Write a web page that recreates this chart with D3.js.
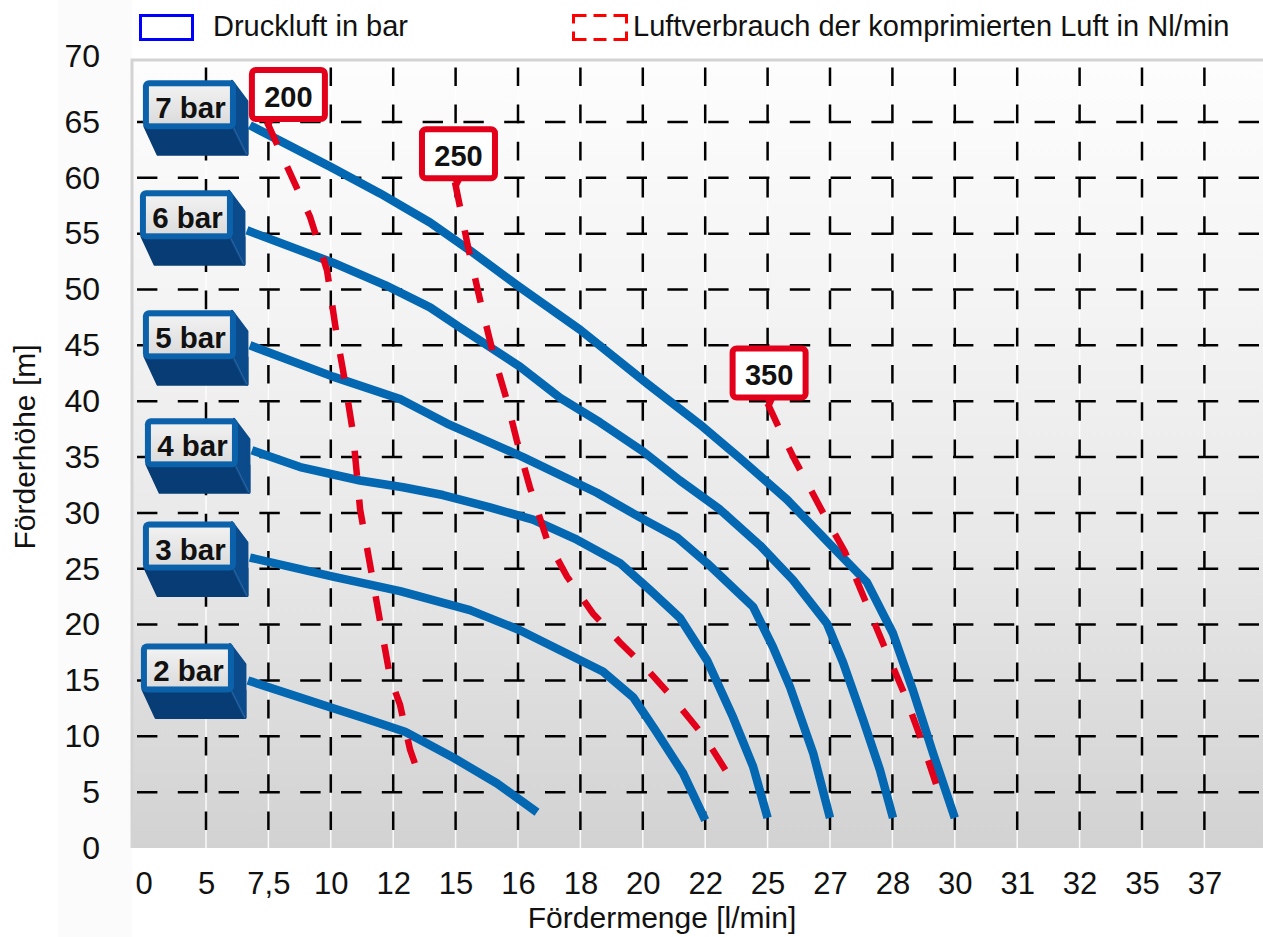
<!DOCTYPE html>
<html><head><meta charset="utf-8">
<script src="https://cdn.jsdelivr.net/npm/d3@7"></script>
<style>
html,body{margin:0;padding:0;background:#fff;}
svg{display:block;}
</style></head><body>
<svg id="chart" width="1263" height="937"></svg>
<script>
// ---------- DATA ----------
const xCategories = [0,5,7.5,10,12,15,16,18,20,22,25,27,28,30,31,32,35,37];
const xTickLabels = ["0","5","7,5","10","12","15","16","18","20","22","25","27","28","30","31","32","35","37"];
const yTicks = [0,5,10,15,20,25,30,35,40,45,50,55,60,65,70];

const pressureLabels = ["2 bar","3 bar","4 bar","5 bar","6 bar","7 bar"];
const curve2bar = [[6.68,15.0],[9.97,12.6],[11.10,11.6],[12.57,10.4],[14.88,8.1],[15.66,5.8],[16.61,3.2]];
const curve3bar = [[6.76,26.0],[10.07,24.3],[12.33,23.0],[15.23,21.3],[16.06,19.5],[17.35,17.7],[18.72,15.8],[19.69,13.5],[20.39,10.6],[21.29,6.7],[22.0,2.5]];
const curve4bar = [[6.84,35.6],[8.77,34.1],[10.94,32.9],[12.47,32.3],[14.39,31.6],[15.55,30.5],[16.48,29.4],[17.89,27.6],[19.27,25.5],[20.23,23.1],[21.19,20.6],[22.09,16.8],[23.34,11.7],[24.30,7.3],[25.0,2.7]];
const curve5bar = [[6.76,45.0],[10.07,42.2],[12.33,40.2],[14.59,38.0],[16.16,35.0],[18.53,31.8],[19.91,29.6],[21.10,27.8],[22.09,25.5],[24.30,21.6],[25.17,18.0],[25.72,14.4],[26.46,8.5],[27.0,2.7]];
const curve6bar = [[6.64,55.3],[10.07,52.4],[11.74,50.4],[13.77,48.4],[15.07,46.6],[16.06,43.1],[17.35,40.3],[18.63,38.1],[20.01,35.5],[21.19,32.9],[22.71,30.3],[24.63,27.1],[25.81,24.0],[26.90,20.1],[27.21,16.6],[27.53,11.5],[27.80,7.0],[28.02,2.7]];
const curve7bar = [[6.76,64.7],[9.97,61.0],[11.58,58.6],[13.77,56.0],[15.23,53.5],[16.06,50.2],[17.99,46.4],[20.13,41.6],[21.93,37.7],[23.67,34.9],[25.62,31.2],[27.05,26.9],[27.59,23.8],[28.02,19.2],[28.66,14.1],[29.30,8.5],[30.0,2.7]];

const airLabels = ["200","250","350"];
const air200 = [[7.44,65.0],[8.25,61.0],[9.17,56.5],[9.85,51.7],[10.20,45.7],[10.39,42.8],[10.71,37.2],[10.94,30.3],[11.32,24.4],[11.61,19.8],[11.90,15.3],[12.33,12.8],[12.81,8.8],[13.19,6.8]];
const air250 = [[14.97,59.6],[15.07,57.4],[15.20,53.8],[15.39,49.1],[15.60,44.3],[15.82,40.1],[15.98,36.5],[16.38,32.3],[16.93,27.6],[17.57,24.3],[18.40,21.0],[19.27,18.4],[20.07,16.2],[20.94,13.5],[21.99,9.9],[23.58,5.2]];
const air350 = [[25.0,39.8],[25.40,37.4],[25.88,34.7],[26.78,30.0],[27.24,26.5],[27.56,22.2],[27.88,17.9],[28.40,13.7],[28.95,9.5],[29.46,5.2]];

const legendLabels = ["Druckluft in bar","Luftverbrauch der komprimierten Luft in Nl/min"];
const xTitle = "Fördermenge [l/min]";
const yTitle = "Förderhöhe [m]";

// ---------- LAYOUT ----------
const FONT = "'Liberation Sans', Arial, Helvetica, sans-serif";
const plot = {left:132, top:60, right:1263, bottom:848};
const catX0 = 143.6, catStep = 62.4;
const pressureBoxDy = [37,36,32,35,40,45];
const airBoxOffset = [[18,55],[36,56],[38,58]];

const svg = d3.select('#chart').attr('font-family', FONT);

const x = d3.scaleLinear().domain(xCategories).range(xCategories.map((d,i)=>catX0 + i*catStep));
const y = d3.scaleLinear().domain([0,70]).range([plot.bottom, plot.bottom - 70*11.17]);

// ---------- DEFS ----------
const defs = svg.append('defs');
const bg = defs.append('linearGradient').attr('id','bgGrad').attr('x1',0).attr('y1',0).attr('x2',0).attr('y2',1);
[[0,'#fdfdfd'],[0.3,'#f4f4f4'],[0.62,'#e8e8e8'],[1,'#d2d2d2']].forEach(s=>bg.append('stop').attr('offset',s[0]).attr('stop-color',s[1]));
const fg = defs.append('linearGradient').attr('id','faceGrad').attr('x1',0).attr('y1',0).attr('x2',0).attr('y2',1);
[[0,'#f1f1f1'],[1,'#dcdcdc']].forEach(s=>fg.append('stop').attr('offset',s[0]).attr('stop-color',s[1]));

// ---------- PLOT BACKGROUND ----------
svg.append('rect').attr('x',58).attr('y',0).attr('width',plot.left-58).attr('height',937).attr('fill','#fbfbfb');
svg.append('rect').attr('x',plot.left).attr('y',plot.top).attr('width',plot.right-plot.left).attr('height',plot.bottom-plot.top).attr('fill','url(#bgGrad)');
svg.append('path').attr('d',`M${plot.left},${plot.bottom} V${plot.top} H${plot.right}`).attr('fill','none').attr('stroke','#d3d3d3').attr('stroke-width',3);

// thin white lines
svg.append('g').selectAll('line').data(xCategories.slice(1)).join('line')
  .attr('x1',d=>x(d)).attr('x2',d=>x(d)).attr('y1',plot.top+2).attr('y2',plot.bottom)
  .attr('stroke','#ffffff').attr('stroke-width',1.5).attr('opacity',0.9);

// dashed grid
svg.append('g').selectAll('line').data(xCategories.slice(1)).join('line')
  .attr('x1',d=>x(d)).attr('x2',d=>x(d)).attr('y1',y(0)-18).attr('y2',plot.top+2)
  .attr('stroke','#000').attr('stroke-width',2.5).attr('stroke-dasharray','18.6 18.6');
svg.append('g').selectAll('line').data(yTicks.filter(d=>d>0 && d<70)).join('line')
  .attr('x1',137).attr('x2',plot.right).attr('y1',d=>y(d)).attr('y2',d=>y(d))
  .attr('stroke','#000').attr('stroke-width',2.5).attr('stroke-dasharray','20.4 20.4');

// ---------- AXES ----------
const xAxis = svg.append('g').attr('transform',`translate(0,${plot.bottom})`)
  .call(d3.axisBottom(x).tickValues(xCategories).tickFormat((d,i)=>xTickLabels[i]).tickSize(0).tickPadding(24));
xAxis.select('.domain').remove();
xAxis.attr('font-family',FONT).attr('font-size',31);
xAxis.selectAll('text').attr('fill','#111');

const yAxis = svg.append('g').attr('transform','translate(100,0)')
  .call(d3.axisLeft(y).tickValues(yTicks).tickSize(0).tickPadding(0));
yAxis.select('.domain').remove();
yAxis.attr('font-family',FONT).attr('font-size',32);
yAxis.selectAll('text').attr('fill','#111').attr('dy',d=> d===70 ? '0.0em' : '0.32em');

svg.append('text').attr('x',662).attr('y',928).attr('text-anchor','middle').attr('font-size',30).attr('fill','#111').text(xTitle);
svg.append('text').attr('transform','translate(35,447) rotate(-90)').attr('text-anchor','middle').attr('font-size',30).attr('fill','#111').text(yTitle);

// ---------- LEGEND ----------
svg.append('rect').attr('x',140.5).attr('y',15.5).attr('width',52).attr('height',24).attr('fill','none').attr('stroke','#0000ff').attr('stroke-width',3);
svg.append('text').attr('x',213).attr('y',36).attr('font-size',29).attr('fill','#111').text(legendLabels[0]);
(function(){
  const lx=573.5, ly=15.5, w=53, h=24, c=13;
  const p = `M${lx+c},${ly} H${lx} V${ly+8} M${lx},${ly+h-8} V${ly+h} H${lx+c}`+
            `M${lx+w-c},${ly} H${lx+w} V${ly+8} M${lx+w},${ly+h-8} V${ly+h} H${lx+w-c}`+
            `M${lx+c+7},${ly} H${lx+w-c-7} M${lx+c+7},${ly+h} H${lx+w-c-7}`;
  svg.append('path').attr('d',p).attr('fill','none').attr('stroke','#ff0000').attr('stroke-width',3);
})();
svg.append('text').attr('x',633).attr('y',36).attr('font-size',29).attr('fill','#111').text(legendLabels[1]);

// ---------- CURVES ----------
const line = d3.line().x(d=>x(d[0])).y(d=>y(d[1]));
const pressureCurves = [curve2bar,curve3bar,curve4bar,curve5bar,curve6bar,curve7bar];
const airCurves = [air200,air250,air350];

svg.append('g').selectAll('path').data(pressureCurves).join('path')
  .attr('d',line).attr('fill','none').attr('stroke','#0467b2').attr('stroke-width',8.5)
  .attr('stroke-linejoin','round');

svg.append('g').selectAll('path').data(airCurves).join('path')
  .attr('d',line).attr('fill','none').attr('stroke','#e2001a').attr('stroke-width',6.5)
  .attr('stroke-dasharray','25 24');

// ---------- PRESSURE BOXES ----------
const W=93, H=49, DX=11, DY=25;
pressureCurves.forEach((c,i)=>{
  const sx = x(c[0][0]), sy = y(c[0][1]);
  const g = svg.append('g').attr('transform',`translate(${sx-(W+DX+3)},${sy-pressureBoxDy[i]})`);
  g.append('path').attr('d',`M2,${H-3} L15,${H+DY} L${W+DX},${H+DY} L${W+DX},${H-2} L${W},${H-2}Z`)
    .attr('fill','#073c74').attr('stroke','#073c74').attr('stroke-width',3).attr('stroke-linejoin','round');
  g.append('path').attr('d',`M${W-4},1 L${W+DX},21 L${W+DX},${H+DY} L${W-2},${H-1}Z`)
    .attr('fill','#0b4b8b').attr('stroke','#0b4b8b').attr('stroke-width',3).attr('stroke-linejoin','round');
  g.append('line').attr('x1',W-2).attr('y1',H-1).attr('x2',W+DX).attr('y2',H+DY).attr('stroke','#2a629c').attr('stroke-width',1.2);
  g.append('rect').attr('x',0).attr('y',0).attr('width',W).attr('height',H).attr('rx',6).attr('fill','#0c62aa');
  g.append('rect').attr('x',6).attr('y',6).attr('width',W-12).attr('height',H-12).attr('fill','url(#faceGrad)');
  g.append('text').attr('x',W/2+1).attr('y',38).attr('text-anchor','middle').attr('font-size',29.5)
    .attr('font-weight','bold').attr('fill','#111').text(pressureLabels[i]);
});

// ---------- AIR CALLOUTS ----------
airCurves.forEach((c,i)=>{
  const sx = x(c[0][0]), sy = y(c[0][1]);
  const bx = sx - airBoxOffset[i][0], by = sy - airBoxOffset[i][1];
  const g = svg.append('g').attr('transform',`translate(${bx},${by})`);
  const tx = sx - bx;
  g.append('path').attr('d',`M${tx-4},50 L${tx+9},50 L${tx+2},${airBoxOffset[i][1]+8}Z`).attr('fill','#e2001a');
  g.append('rect').attr('x',3).attr('y',3).attr('width',73).attr('height',49).attr('rx',4)
    .attr('fill','#fff').attr('stroke','#e2001a').attr('stroke-width',6);
  g.append('text').attr('x',39.5).attr('y',40).attr('text-anchor','middle').attr('font-size',29)
    .attr('font-weight','bold').attr('fill','#111').text(airLabels[i]);
});
</script>
</body></html>
